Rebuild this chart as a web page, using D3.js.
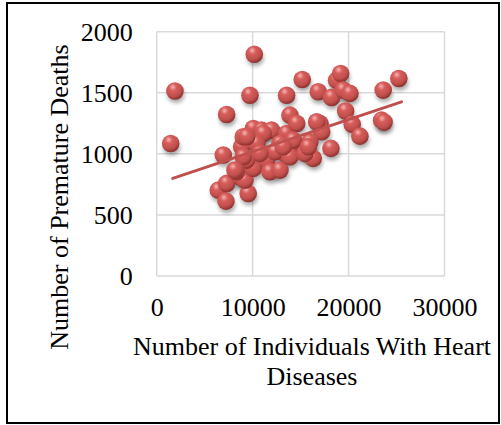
<!DOCTYPE html>
<html><head><meta charset="utf-8">
<script src="https://cdn.jsdelivr.net/npm/d3@7"></script>
<style>html,body{margin:0;padding:0;background:#fff;}svg{display:block;}</style>
</head><body>
<script>
const xValues = [1460,1900,10170,9720,7290,6940,6420,7290,7220,9540,13540,15170,16840,18230,18750,19170,19440,20140,23610,25240,19690,20380,21180,23440,23700,18160,17020,17190,
 8680,9200,8330,10070,8850,9020,10070,10940,11980,10420,9380,11460,11800,12850,13370,13540,13890,14590,14410,15630,15970,16320,16670,12850,12330,13890,14230,15450,15800,13190,11110,9020,8160,10420,10760,9380];
const yValues = [1085,1515,1816,1480,1322,990,703,758,613,676,1480,1609,1508,1462,1603,1658,1522,1495,1522,1617,1350,1243,1145,1276,1260,1045,1249,1181,
 812,785,853,881,1058,1140,1208,1194,1194,1099,949,949,853,867,1004,1167,1317,1249,1085,1031,1099,963,1262,1085,1017,976,1112,1004,1058,1058,1167,976,867,1085,1004,1140];
const trendX = [1670,25520];
const trendY = [799,1426];
const xTicks = [0,10000,20000,30000];
const yTicks = [0,500,1000,1500,2000];
const xTitle = ["Number of Individuals With Heart","Diseases"];
const yTitle = "Number of Premature Deaths";

const W=501,H=425;
const svg=d3.select("body").append("svg").attr("width",W).attr("height",H);
svg.append("rect").attr("x",7).attr("y",3).attr("width",492).attr("height",420)
  .attr("fill","#fff").attr("stroke","#000").attr("stroke-width",2);

const x=d3.scaleLinear().domain([0,30000]).range([156.7,444.5]);
const y=d3.scaleLinear().domain([0,2000]).range([276,31.7]);
const font="'Liberation Serif','Times New Roman',serif";
const fs=26;

const defs=svg.append("defs");
const g=defs.append("radialGradient").attr("id","ball").attr("cx","40%").attr("cy","32%").attr("r","70%").attr("fx","38%").attr("fy","28%");
g.append("stop").attr("offset","0%").attr("stop-color","#f4b6b4");
g.append("stop").attr("offset","30%").attr("stop-color","#d85d5a");
g.append("stop").attr("offset","70%").attr("stop-color","#c0504d");
g.append("stop").attr("offset","100%").attr("stop-color","#8a2d2a");
const f=defs.append("filter").attr("id","sh").attr("x","-50%").attr("y","-50%").attr("width","200%").attr("height","200%");
f.append("feGaussianBlur").attr("stdDeviation",2.2);

// grid
const grid=svg.append("g").attr("stroke","#d9d9d9").attr("stroke-width",1.5);
grid.selectAll(".gx").data(xTicks).enter().append("line")
  .attr("x1",d=>x(d)).attr("x2",d=>x(d)).attr("y1",y(2000)).attr("y2",y(0));
grid.selectAll(".gy").data(yTicks).enter().append("line")
  .attr("y1",d=>y(d)).attr("y2",d=>y(d)).attr("x1",x(0)).attr("x2",x(30000));

// axes labels via d3 axis
const ax=svg.append("g").attr("transform",`translate(0,${y(0)})`)
  .call(d3.axisBottom(x).tickValues(xTicks).tickSize(0).tickPadding(22).tickFormat(d3.format("d")));
const ay=svg.append("g").attr("transform",`translate(${x(0)},0)`)
  .call(d3.axisLeft(y).tickValues(yTicks).tickSize(0).tickPadding(24).tickFormat(d3.format("d")));
[ax,ay].forEach(a=>{a.select(".domain").remove();a.selectAll("text").attr("font-family",font).attr("font-size",fs).attr("fill","#000");});

const pts=xValues.map((v,i)=>({x:v,y:yValues[i]}));
// shadows
svg.append("g").selectAll("ellipse").data(pts).enter().append("ellipse")
  .attr("cx",d=>x(d.x)+1).attr("cy",d=>y(d.y)+4).attr("rx",8.5).attr("ry",8)
  .attr("fill","#000").attr("opacity",0.35).attr("filter","url(#sh)");
svg.append("g").selectAll("circle").data(pts).enter().append("circle")
  .attr("cx",d=>x(d.x)).attr("cy",d=>y(d.y)).attr("r",8.8).attr("fill","url(#ball)");

svg.append("line").attr("x1",x(trendX[0])).attr("y1",y(trendY[0])).attr("x2",x(trendX[1])).attr("y2",y(trendY[1]))
  .attr("stroke","#c0504d").attr("stroke-width",3).attr("stroke-linecap","round");

svg.append("text").attr("transform","translate(68,197) rotate(-90)").attr("text-anchor","middle")
  .attr("font-family",font).attr("font-size",fs).text(yTitle);
svg.selectAll(".xt").data(xTitle).enter().append("text").attr("x",312).attr("y",(d,i)=>355+i*30)
  .attr("text-anchor","middle").attr("font-family",font).attr("font-size",fs).text(d=>d);
</script>
</body></html>
